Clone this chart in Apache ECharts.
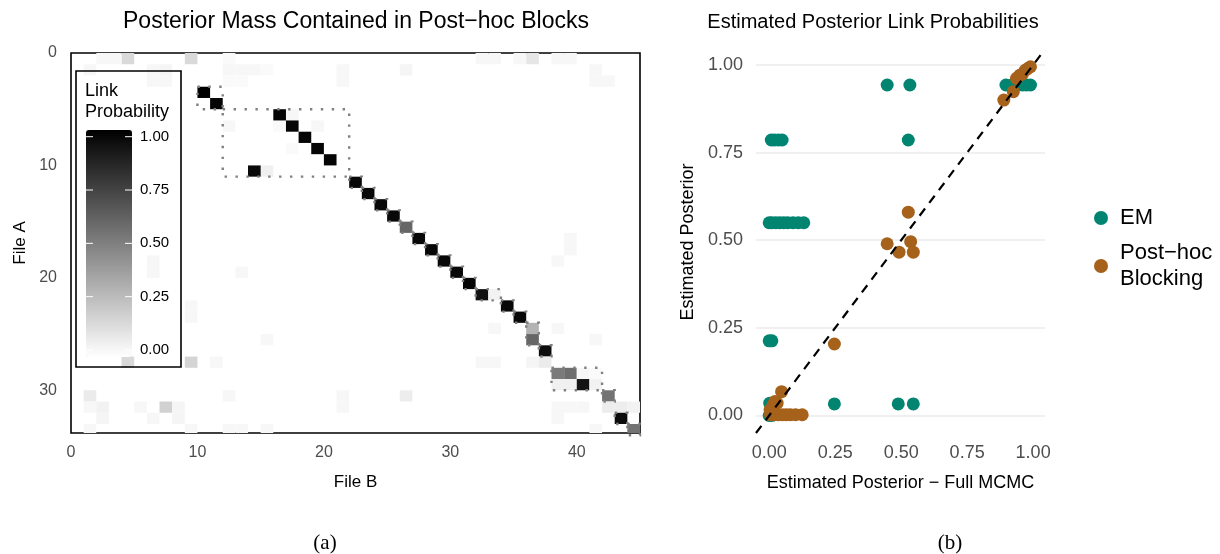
<!DOCTYPE html>
<html>
<head>
<meta charset="utf-8">
<script src="https://cdn.jsdelivr.net/npm/echarts@6/dist/echarts.min.js"></script>
<style>
html, body { margin: 0; padding: 0; background: #fff; }
#chart { width: 1220px; height: 554px; }
</style>
</head>
<body>
<div id="chart"></div>
<script>
// left panel: [file B index, file A index, link probability]
var linkCells = [
  [4,0,0.15],[9,0,0.15],[2,0,0.03],[3,0,0.03],[12,0,0.02],[32,0,0.03],[33,0,0.03],[35,0,0.03],[36,0,0.1],[38,0,0.03],[39,0,0.03],
  [1,1,0.03],[6,1,0.03],[6,2,0.03],[7,1,0.04],[7,2,0.03],[12,1,0.03],[13,1,0.03],[14,1,0.03],[15,1,0.02],[12,2,0.02],[13,2,0.02],
  [21,1,0.03],[21,2,0.03],[26,1,0.04],[41,1,0.03],[41,2,0.03],[42,2,0.03],
  [12,6,0.03],[17,5,0.03],[16,6,0.02],[19,6,0.03],[17,8,0.02],[15,10,0.06],
  [6,18,0.03],[6,19,0.03],[13,19,0.03],[9,22,0.03],[9,23,0.03],[15,25,0.03],
  [4,27,0.15],[9,27,0.17],[11,27,0.03],[1,30,0.08],[12,30,0.03],[21,30,0.03],[21,31,0.03],[26,30,0.07],
  [1,31,0.03],[2,31,0.05],[2,32,0.04],[5,31,0.03],[7,31,0.18],[8,31,0.04],[8,32,0.04],[6,32,0.03],
  [1,33,0.03],[9,33,0.03],[12,33,0.03],[13,33,0.03],[15,33,0.03],
  [39,16,0.03],[39,17,0.03],[38,18,0.03],[33,24,0.03],[38,24,0.03],[41,25,0.03],[32,27,0.03],[33,27,0.03],
  [38,31,0.03],[39,31,0.03],[38,32,0.03],[40,31,0.03],[41,33,0.03],
  [10,3,1],[11,4,0.98],[16,5,0.98],[17,6,0.98],[18,7,0.98],[19,8,0.98],[20,9,0.98],[14,10,0.96],
  [22,11,0.97],[23,12,0.97],[24,13,0.97],[25,14,0.97],[26,15,0.6],[27,16,0.97],[28,17,0.97],[29,18,0.97],
  [30,19,0.97],[31,20,0.98],[32,21,0.93],[33,21,0.05],[34,22,0.97],[35,23,0.97],[36,24,0.3],[36,25,0.6],
  [37,26,0.95],[37,27,0.08],[36,27,0.04],[38,28,0.52],[39,28,0.57],[40,28,0.03],[41,28,0.02],
  [38,29,0.06],[39,29,0.06],[40,29,0.92],[41,29,0.05],[42,30,0.55],[42,31,0.07],[43,31,0.07],[44,31,0.05],
  [43,32,0.95],[44,33,0.55]
];
// post-hoc blocks: [B start, A start, B end, A end]
var blocks = [
  [10,3,12,5],[12,5,22,11],[22,11,23,12],[23,12,24,13],[24,13,25,14],[25,14,26,15],[26,15,27,16],
  [27,16,28,17],[28,17,29,18],[29,18,30,19],[30,19,31,20],[31,20,32,21],[32,21,34,22],[34,22,35,23],
  [35,23,36,24],[36,24,37,26],[37,26,38,27],[38,28,42,30],[42,30,43,31],[43,32,44,33],[44,33,45,34]
];
var heatXTicks = [0, 10, 20, 30, 40];
var heatYTicks = [0, 10, 20, 30];
var probTicks = [1, 0.75, 0.5, 0.25, 0];

// right panel: [full MCMC, estimated]
var emPoints = [
  [0,0],[0.01,0],[0.002,0.035],[0.247,0.033],[0.489,0.033],[0.546,0.033],
  [0,0.213],[0.01,0.213],
  [0.0,0.55],[0.01,0.55],[0.025,0.55],[0.04,0.55],[0.055,0.55],[0.07,0.55],[0.09,0.55],[0.11,0.55],[0.131,0.55],
  [0.008,0.786],[0.02,0.786],[0.035,0.786],[0.049,0.786],[0.527,0.786],
  [0.447,0.943],[0.533,0.943],[0.897,0.943],[0.92,0.943],[0.94,0.943],[0.96,0.943],[0.975,0.943],[0.99,0.943]
];
var postHocPoints = [
  [0.005,0.002],[0.02,0.002],[0.035,0.002],[0.05,0.002],[0.065,0.002],[0.08,0.002],[0.1,0.002],[0.125,0.002],
  [0.003,0.016],[0.015,0.03],[0.03,0.035],[0.022,0.04],[0.047,0.068],[0.247,0.204],
  [0.447,0.49],[0.492,0.466],[0.536,0.496],[0.546,0.466],[0.527,0.58],
  [0.889,0.9],[0.925,0.924],[0.95,0.971],[0.937,0.962],[0.96,0.975],[0.97,0.985],[0.98,0.99],[0.99,0.995]
];
var diagLine = [[-0.05, -0.05], [1.05, 1.05]];
var postTicks = [0, 0.25, 0.5, 0.75, 1];

var font = 'Liberation Sans, Arial, sans-serif';
var chart = echarts.init(document.getElementById('chart'));

function renderCell(params, api) {
  var x = api.value(0), y = api.value(1);
  var p0 = api.coord([x, y]);
  var p1 = api.coord([x + 1, y + 1]);
  var cs = params.coordSys;
  var shape = echarts.graphic.clipRectByRect(
    { x: p0[0], y: p0[1], width: p1[0] - p0[0], height: p1[1] - p0[1] },
    { x: cs.x, y: cs.y, width: cs.width, height: cs.height }
  );
  if (!shape) return;
  return { type: 'rect', shape: shape, style: { fill: api.visual('color') } };
}

function renderBlock(params, api) {
  var p0 = api.coord([api.value(0), api.value(1)]);
  var p1 = api.coord([api.value(2), api.value(3)]);
  return {
    type: 'rect',
    shape: { x: p0[0], y: p0[1], width: p1[0] - p0[0], height: p1[1] - p0[1] },
    style: { fill: 'none', stroke: '#808080', lineWidth: 2.4, lineDash: [2.4, 8.5] }
  };
}

var graphics = [];
graphics.push({ type: 'text', x: 356, y: 22, style: { text: 'Posterior Mass Contained in Post\u2212hoc Blocks', font: '23px ' + font, fill: '#000', textAlign: 'center', textVerticalAlign: 'middle' } });
graphics.push({ type: 'text', x: 873, y: 22, style: { text: 'Estimated Posterior Link Probabilities', font: '20px ' + font, fill: '#000', textAlign: 'center', textVerticalAlign: 'middle' } });
graphics.push({ type: 'text', x: 325, y: 543, style: { text: '(a)', font: '21px Liberation Serif, serif', fill: '#000', textAlign: 'center', textVerticalAlign: 'middle' } });
graphics.push({ type: 'text', x: 950, y: 543, style: { text: '(b)', font: '21px Liberation Serif, serif', fill: '#000', textAlign: 'center', textVerticalAlign: 'middle' } });
// colorbar legend box
graphics.push({ type: 'rect', z: 3, shape: { x: 76, y: 71, width: 105, height: 296 }, style: { fill: 'none', stroke: '#000', lineWidth: 1.6 } });
graphics.push({ type: 'text', z: 5, x: 85, y: 102, style: { text: 'Link\nProbability', font: '18px ' + font, lineHeight: 21, fill: '#000', textVerticalAlign: 'middle' } });
probTicks.forEach(function (v) {
  var ty = 136.7 + (1 - v) * 213.3;
  graphics.push({ type: 'text', z: 5, x: 140, y: ty, style: { text: v.toFixed(2), font: '15px ' + font, fill: '#000', textVerticalAlign: 'middle' } });
  graphics.push({ type: 'line', z: 5, shape: { x1: 86, y1: ty, x2: 93, y2: ty }, style: { stroke: '#ffffff', lineWidth: 1 } });
  graphics.push({ type: 'line', z: 5, shape: { x1: 125, y1: ty, x2: 132, y2: ty }, style: { stroke: '#ffffff', lineWidth: 1 } });
});

var option = {
  animation: false,
  textStyle: { fontFamily: font },
  grid: [
    { left: 71, top: 53, width: 569, height: 380, show: true, borderColor: '#000', borderWidth: 1.6, backgroundColor: 'transparent' },
    { left: 756, top: 51, width: 289, height: 382 }
  ],
  xAxis: [
    {
      gridIndex: 0, type: 'value', min: 0, max: 45,
      name: 'File B', nameLocation: 'middle', nameGap: 41,
      nameTextStyle: { fontSize: 17, color: '#000' },
      axisLine: { show: false }, splitLine: { show: false },
      axisTick: { show: false, customValues: heatXTicks },
      axisLabel: { customValues: heatXTicks, fontSize: 16, color: '#4d4d4d', margin: 12 }
    },
    {
      gridIndex: 1, type: 'value', min: -0.05, max: 1.045,
      name: 'Estimated Posterior \u2212 Full MCMC', nameLocation: 'middle', nameGap: 41,
      nameTextStyle: { fontSize: 18, color: '#000' },
      axisLine: { show: false }, splitLine: { show: false },
      axisTick: { show: false, customValues: postTicks },
      axisLabel: { customValues: postTicks, fontSize: 18, color: '#4d4d4d', margin: 11,
        formatter: function (v) { return v.toFixed(2); } }
    }
  ],
  yAxis: [
    {
      gridIndex: 0, type: 'value', min: 0, max: 33.8, inverse: true,
      name: 'File A', nameLocation: 'middle', nameGap: 42,
      nameTextStyle: { fontSize: 17, color: '#000' },
      axisLine: { show: false }, splitLine: { show: false },
      axisTick: { show: false, customValues: heatYTicks },
      axisLabel: { customValues: heatYTicks, fontSize: 16, color: '#4d4d4d', margin: 14 }
    },
    {
      gridIndex: 1, type: 'value', min: -0.05, max: 1.04,
      name: 'Estimated Posterior', nameLocation: 'middle', nameGap: 59,
      nameTextStyle: { fontSize: 18, color: '#000' },
      axisLine: { show: false },
      axisTick: { show: false, customValues: postTicks },
      splitLine: { show: true, lineStyle: { color: '#ebebeb', width: 1.6 } },
      axisLabel: { customValues: postTicks, fontSize: 18, color: '#4d4d4d', margin: 13,
        formatter: function (v) { return v.toFixed(2); } }
    }
  ],
  visualMap: {
    type: 'continuous', seriesIndex: 0, dimension: 2, min: 0, max: 1,
    calculable: false, left: 86, top: 130, itemWidth: 46, itemHeight: 227,
    inRange: { color: ['#ffffff', '#000000'] },
    text: null, showLabel: false, padding: 0
  },
  legend: {
    data: ['EM', 'Post\u2212hoc Blocking'],
    orient: 'vertical', left: 1089, top: 200, itemGap: 9,
    icon: 'circle', itemWidth: 14, itemHeight: 14,
    textStyle: { fontSize: 22, color: '#000', lineHeight: 26, padding: [0, 0, 0, 7] },
    formatter: function (name) { return name.replace(' B', '\nB'); }
  },
  graphic: graphics,
  series: [
    {
      type: 'custom', xAxisIndex: 0, yAxisIndex: 0,
      renderItem: renderCell, encode: { x: 0, y: 1 }, data: linkCells, z: 1
    },
    {
      type: 'custom', xAxisIndex: 0, yAxisIndex: 0,
      renderItem: renderBlock, encode: { x: [0, 2], y: [1, 3] }, data: blocks, z: 2
    },
    {
      name: 'EM', type: 'scatter', xAxisIndex: 1, yAxisIndex: 1,
      symbolSize: 13, itemStyle: { color: '#018571', opacity: 1 }, data: emPoints, z: 3
    },
    {
      name: 'Post\u2212hoc Blocking', type: 'scatter', xAxisIndex: 1, yAxisIndex: 1,
      symbolSize: 13, itemStyle: { color: '#a6611a', opacity: 1 }, data: postHocPoints, z: 4
    },
    {
      type: 'line', xAxisIndex: 1, yAxisIndex: 1, data: diagLine, symbol: 'none', z: 5,
      lineStyle: { color: '#000', width: 2.2, type: [9, 7] }, silent: true
    }
  ]
};
chart.setOption(option);
</script>
</body>
</html>
